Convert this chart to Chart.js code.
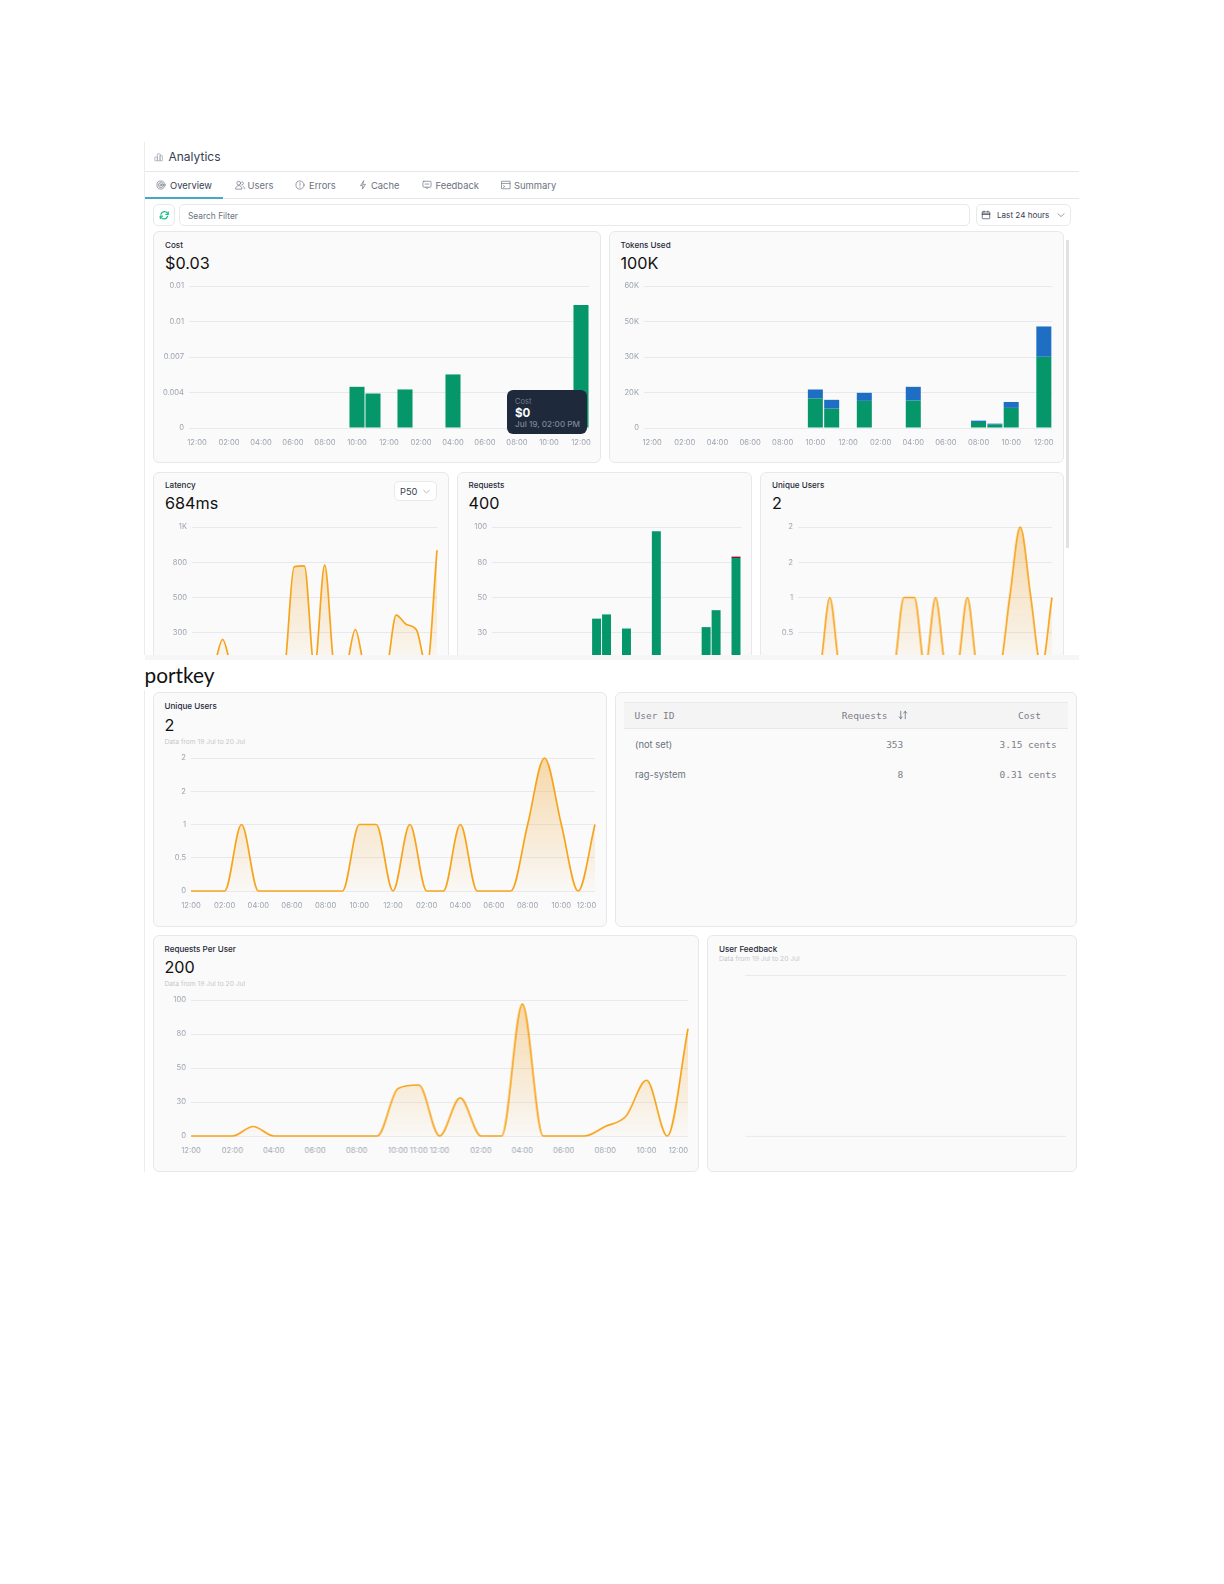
<!DOCTYPE html>
<html>
<head>
<meta charset="utf-8">
<title>Analytics</title>
<script src="https://cdn.jsdelivr.net/npm/chart.js@4/dist/chart.umd.min.js"></script>
<style>
  html,body{margin:0;padding:0;background:#fff;}
  body{width:1224px;height:1584px;position:relative;overflow:hidden;font-family:Inter,sans-serif;}
  #page,#clip{position:absolute;left:0;top:0;width:1224px;}
  #page{height:1584px;}
  #clip{height:655px;overflow:hidden;}
  .box{position:absolute;box-sizing:border-box;background:#fafafa;border:1px solid #e7e8ea;border-radius:6px;}
  .btn{position:absolute;box-sizing:border-box;background:#fff;border:1px solid #e8e9eb;border-radius:5px;}
  .t{position:absolute;white-space:nowrap;transform:translateY(-50%);line-height:1;}
  .rule{position:absolute;background:#e6e7ea;}
  canvas{position:absolute;}
  svg{position:absolute;}
</style>
</head>
<body>
<div id="page"><div id="clip"></div></div>
<script>
// Hourly axis shared by every chart in the dashboard
const hours = ['12:00','01:00','02:00','03:00','04:00','05:00','06:00','07:00','08:00','09:00','10:00','11:00','12:00','01:00','02:00','03:00','04:00','05:00','06:00','07:00','08:00','09:00','10:00','11:00','12:00'];
const twoHourLabels = ['12:00','','02:00','','04:00','','06:00','','08:00','','10:00','','12:00','','02:00','','04:00','','06:00','','08:00','','10:00','','12:00'];
const perUserLabels = ['12:00','','02:00','','04:00','','06:00','','08:00','','10:00','11:00','12:00','','02:00','','04:00','','06:00','','08:00','','10:00','','12:00'];

// Series values
const costValues     = [0,0,0,0,0,0,0,0,0,0,0.00406,0.0034,0,0.0038,0,0,0.00528,0,0,0,0.0004,0.0002,0.0015,0,0.01212];
const tokensInput    = [0,0,0,0,0,0,0,0,0,0,12450,8200,0,11460,0,0,11600,0,0,0,2550,1400,8500,0,30100];
const tokensOutput   = [0,0,0,0,0,0,0,0,0,0,3820,3700,0,3400,0,0,5800,0,0,0,550,440,2500,0,12800];
const latencyValues  = [0,0,0,203,0,0,0,0,0,0,717,724,0,729,0,0,273,0,0,0,375,309,269,0,835];
const requestsOk     = [0,0,0,7,0,0,0,0,0,0,35,38,0,28,0,0,97,0,0,0,7,29,41,0,78];
const requestsFailed = [0,0,0,0,0,0,0,0,0,0,0,0,0,0,0,0,0,0,0,0,0,0,0,0,1];
const uniqueUsers    = [0,0,0,1,0,0,0,0,0,0,1,1,0,1,0,0,1,0,0,0,1,2,1,0,1];
const requestsPerUser= [0,0,0,7,0,0,0,0,0,0,35,37.5,0,28,0,0,97,0,0,0,7,14.5,41,0,79];

// Value axis labels, bottom to top, and their ranges
const costTicks     = ['0','0.004','0.007','0.01','0.01'];
const tokenTicks    = ['0','20K','30K','50K','60K'];
const latencyTicks  = ['0','300','500','800','1K'];
const requestTicks  = ['0','30','50','80','100'];
const userTicks     = ['0','0.5','1','2','2'];
const costMax = 0.014, tokenMax = 60000, latencyMax = 1000, requestMax = 100, userMax = 2;

// User table rows
const tableUsers    = ['(not set)','rag-system'];
const tableRequests = ['353','8'];
const tableCost     = ['3.15 cents','0.31 cents'];

const page = document.getElementById('page');
const clip = document.getElementById('clip');
const GREEN='#059669', BLUE='#1e6fc4', RED='#8f1626', ORANGE='#f7a41d';

function box(parent,x1,y1,x2,y2,cls='box'){
  const d=document.createElement('div');d.className=cls;
  d.style.cssText=`left:${x1}px;top:${y1}px;width:${x2-x1}px;height:${y2-y1}px`;
  parent.appendChild(d);return d;
}
function text(parent,x,y,s,css=''){
  const d=document.createElement('div');d.className='t';d.textContent=s;
  d.style.cssText=`left:${x}px;top:${y}px;${css}`;
  parent.appendChild(d);return d;
}
function rule(x,y,w,h,c){
  const d=box(page,x,y,x+w,y+h,'rule');if(c)d.style.background=c;return d;
}
function icon(x,y,size,inner,color='#6b7280',sw=1.1){
  const wrap=document.createElement('div');
  wrap.innerHTML=`<svg xmlns="http://www.w3.org/2000/svg" style="left:${x}px;top:${y}px" width="${size}" height="${size}" viewBox="0 0 16 16" fill="none" stroke="${color}" stroke-width="${sw}" stroke-linecap="round" stroke-linejoin="round">${inner}</svg>`;
  page.appendChild(wrap.firstChild);
}
const LABEL='font:500 8.1px Inter;color:#1f2937;';
const BIG='font:400 16.2px Inter;color:#111;';
const NOTE='font:400 6.7px Inter;color:#c6c8cc;';
function cardHead(parent,x,y,title,value,note){
  text(parent,x,y+12.5,title,LABEL);
  if(value) text(parent,x,y+31,value,BIG);
  if(note) text(parent,x,y+48,note,NOTE);
}

// Shared chart builder: the plot rectangle is given in page coordinates
function makeChart(parent,plot,cfg){
  const yw=30,xh=30,top=8,right=24;
  const c=document.createElement('canvas');
  const W=yw+(plot.x2-plot.x1)+right,H=top+(plot.y2-plot.y1)+xh;
  c.width=W;c.height=H;
  c.style.cssText=`left:${plot.x1-yw}px;top:${plot.y1-top}px;width:${W}px;height:${H}px`;
  parent.appendChild(c);
  const yTicks=cfg.yTicks||[];
  const xLabels=cfg.xLabels||twoHourLabels;
  const isBar=cfg.datasets.length&&cfg.datasets[0].type==='bar';
  const tickFont={family:'Inter',size:7.6};
  return new Chart(c.getContext('2d'),{
    data:{labels:hours,datasets:cfg.datasets},
    options:{
      responsive:false,animation:false,events:[],
      layout:{padding:{top:top,right:right,left:0,bottom:0}},
      plugins:{legend:{display:false},tooltip:{enabled:false}},
      scales:{
        x:{
          type:'category',stacked:isBar,offset:isBar,
          border:{display:false},grid:{display:false,drawTicks:false},
          afterFit(s){s.height=xh;s.paddingLeft=0;s.paddingRight=0;},
          ticks:{autoSkip:false,maxRotation:0,minRotation:0,padding:10,
            color:'#9ca3af',font:tickFont,
            // the closing label is nudged inward on the wide line charts
            callback(v,i){
              const l=xLabels[i];
              return (cfg.shiftLast&&i===xLabels.length-1)?l+'\u00a0'.repeat(cfg.shiftLast):l;
            }}
        },
        y:{
          stacked:isBar,min:0,max:cfg.max,
          border:{display:false},
          grid:{color:'#e8e9ec',lineWidth:1,drawTicks:false},
          afterFit(s){s.width=yw;s.paddingTop=0;s.paddingBottom=0;},
          ticks:{stepSize:cfg.max/cfg.steps,padding:5,color:'#9ca3af',font:tickFont,
            callback(v,i){return yTicks[i]===undefined?'':yTicks[i];}}
        }
      }
    }
  });
}
function bar(data,color,pct){
  return {type:'bar',data,backgroundColor:color,barPercentage:pct,categoryPercentage:1,borderWidth:0};
}
function area(data,lw=1.7){
  return {type:'line',data,borderColor:ORANGE,borderWidth:lw,pointRadius:0,
    cubicInterpolationMode:'monotone',fill:'origin',clip:6,
    backgroundColor(ctx){
      const a=ctx.chart.chartArea;
      if(!a) return 'rgba(245,166,35,.3)';
      const g=ctx.chart.ctx.createLinearGradient(0,a.top,0,a.bottom);
      g.addColorStop(0,'rgba(240,165,50,.40)');
      g.addColorStop(1,'rgba(240,165,50,.02)');
      return g;
    }};
}

// Header, tabs and filter row
rule(143.5,142,1,513,'#eceded');
rule(143.5,690,1,482,'#eceded');
icon(154,152,10,'<rect x="2" y="8" width="3.5" height="6"/><rect x="6" y="3" width="4" height="11"/><rect x="10" y="6" width="3.5" height="8"/>','#9ca3af');
text(page,168.5,156,'Analytics','font:400 12px Inter;color:#374151;');
rule(145,171,934,1);
rule(145,198,934,1);
rule(145,197,78,2,'#45a9c4');
const tabs=[['Overview',170,'#374151'],['Users',247.5,'#6b7280'],['Errors',309,'#6b7280'],['Cache',371,'#6b7280'],['Feedback',435.5,'#6b7280'],['Summary',514,'#6b7280']];
tabs.forEach(([s,x,c])=>text(page,x,184.6,s,`font:400 9.4px Inter;color:${c};`));
icon(156,179.5,10,'<circle cx="8" cy="8" r="6.5"/><circle cx="8" cy="8" r="4"/><circle cx="8" cy="8" r="1.6"/>');
icon(234.5,179.5,10,'<circle cx="6" cy="5" r="3"/><path d="M1 14c0-3 2-5 5-5s5 2 5 5z"/><path d="M11 3a2.5 2.5 0 0 1 0 5M13 10c1.500 1 2 2.500 2 4"/>');
icon(295,179.5,10,'<circle cx="8" cy="8" r="6.5"/><path d="M8 4.500v4M8 11v.4"/>');
icon(358,179.5,10,'<path d="M9 1.500 4 9h4l-1 5.500L12 7H8z"/>');
icon(422,179.5,10,'<rect x="1.500" y="2" width="13" height="9.500" rx="1.500"/><path d="M6 11.500 8 14l2-2.500M5 6.500h6"/>');
icon(501,179.5,10,'<rect x="1.500" y="2" width="13" height="12"/><path d="M1.500 5.500h13M4 9l2 1.500L4 12"/>');
box(page,153.3,204.3,175,225.7,'btn');
icon(159,209.5,10.5,'<path d="M3 6.500A5.500 5.500 0 0 1 13 5l1 1.500M13 9.500A5.500 5.500 0 0 1 3 11l-1-1.500"/><path d="M14 3v3.500h-3.500M2 13V9.500h3.500"/>','#22c08a',1.9);
box(page,179,204.3,970,225.7,'btn');
text(page,188,215.8,'Search Filter','font:400 8.4px Inter;color:#6b7280;');
box(page,976,204.3,1070.5,225.7,'btn');
icon(981,210,10,'<rect x="2" y="3" width="12" height="11" rx="1"/><path d="M2 6.500h12" stroke-width="2.200"/><path d="M5 1.500v2M11 1.500v2"/>','#374151');
text(page,997,215,'Last 24 hours','font:400 8.1px Inter;color:#374151;');
icon(1056,210,10,'<path d="M3 6l5 4.500L13 6"/>');

// Scrollbar beside the first two rows
rule(1065.5,240,3.5,308,'#e2e2e2');

// Cost
box(page,153.3,231,600.7,463.3);
cardHead(page,165,232,'Cost','$0.03');
makeChart(page,{x1:189,x2:589,y1:286,y2:428},{
  max:costMax,steps:4,yTicks:costTicks,
  datasets:[bar(costValues,GREEN,.94)]
});
const tip=box(page,507.3,390,586.7,434.3,'tip');
tip.style.background='#1e293b';tip.style.borderRadius='6px';tip.style.position='absolute';
text(page,515,401,'Cost','font:400 7.5px Inter;color:#6f7b8c;');
text(page,515,412.5,'$0','font:700 11.5px Inter;color:#f8fafc;');
text(page,515,423.5,'Jul 19, 02:00 PM','font:500 8.2px Inter;color:#7c8796;');

// Tokens used
box(page,608.6,231,1064,463.3);
cardHead(page,620.5,232,'Tokens Used','100K');
makeChart(page,{x1:644,x2:1052,y1:286,y2:428},{
  max:tokenMax,steps:4,yTicks:tokenTicks,
  datasets:[bar(tokensInput,GREEN,.92),bar(tokensOutput,BLUE,.92)]
});

// Second row, cut off by the panel edge
box(clip,153.3,472.3,448.7,700);
cardHead(clip,165,472.3,'Latency','684ms');
box(clip,394,481,437,501,'btn');
text(clip,400,491,'P50','font:400 9.3px Inter;color:#374151;');
makeChart(clip,{x1:191.7,x2:436.7,y1:526.7,y2:668},{
  max:latencyMax,steps:4,yTicks:latencyTicks,
  datasets:[area(latencyValues)]
});
box(clip,457.3,472.3,751.7,700);
cardHead(clip,468.5,472.3,'Requests','400');
makeChart(clip,{x1:492,x2:741,y1:526.7,y2:668},{
  max:requestMax,steps:4,yTicks:requestTicks,
  datasets:[bar(requestsOk,GREEN,.9),bar(requestsFailed,RED,.9)]
});
box(clip,760.3,472.3,1063.7,700);
cardHead(clip,772,472.3,'Unique Users','2');
makeChart(clip,{x1:798.3,x2:1052,y1:526.7,y2:668},{
  max:userMax,steps:4,yTicks:userTicks,
  datasets:[area(uniqueUsers)]
});
icon(421,485.5,11,'<path d="M4 6.500l4 3.500 4-3.500"/>','#9ca3af');
rule(145,655,934,5,'#f6f6f9');

text(page,144.5,674,'portkey','font:400 20.8px Lato;color:#111;');

// Unique users, full size
box(page,153.3,692.3,606.7,926.7);
cardHead(page,164.5,693.7,'Unique Users','2','Data from 19 Jul to 20 Jul');
makeChart(page,{x1:191,x2:595,y1:757.6,y2:890.7},{
  max:userMax,steps:4,yTicks:userTicks,shiftLast:8,
  datasets:[area(uniqueUsers)]
});

// Per-user table
box(page,615,692.3,1076.7,926.7);
const head=box(page,624,701.7,1068.3,728.3,'rule');
head.style.background='#f4f4f5';
rule(624,701.7,444.3,1,'#eaeaec');rule(624,728,444.3,1,'#e6e7ea');
const MONO='font:400 9.5px "DejaVu Sans Mono";color:#7b8087;';
text(page,634.5,714.5,'User ID',MONO);
text(page,841.7,714.5,'Requests',MONO);
text(page,1018,714.5,'Cost',MONO);
icon(897,708.5,12,'<path d="M5 3v10M3 10.500 5 13l2-2.500M11 13V3M9 5.500 11 3l2 2.500"/>');
[743.5,773.5].forEach((y,i)=>{
  text(page,635,y,tableUsers[i],'font:400 9.4px Inter;color:#6b7280;');
  const a=text(page,0,y,tableRequests[i],MONO);a.style.left='auto';a.style.right=(1224-903.3)+'px';
  const b=text(page,0,y,tableCost[i],MONO);b.style.left='auto';b.style.right=(1224-1056.7)+'px';
});

// Requests per user
box(page,153.3,935.3,698.8,1171.7);
cardHead(page,164.5,936.3,'Requests Per User','200','Data from 19 Jul to 20 Jul');
makeChart(page,{x1:191,x2:687.5,y1:1000,y2:1136},{
  max:requestMax,steps:4,yTicks:requestTicks,xLabels:perUserLabels,shiftLast:9,
  datasets:[area(requestsPerUser)]
});

// User feedback has no data yet, only its empty grid
box(page,707,935.3,1076.7,1171.7);
text(page,719,948.5,'User Feedback',LABEL);
text(page,719,958.5,'Data from 19 Jul to 20 Jul',NOTE);
makeChart(page,{x1:745.3,x2:1065.7,y1:975,y2:1135.7},{
  max:1,steps:1,yTicks:['',''],xLabels:hours.map(()=>''),
  datasets:[{type:'line',data:[]}]
});
</script>
</body>
</html>
